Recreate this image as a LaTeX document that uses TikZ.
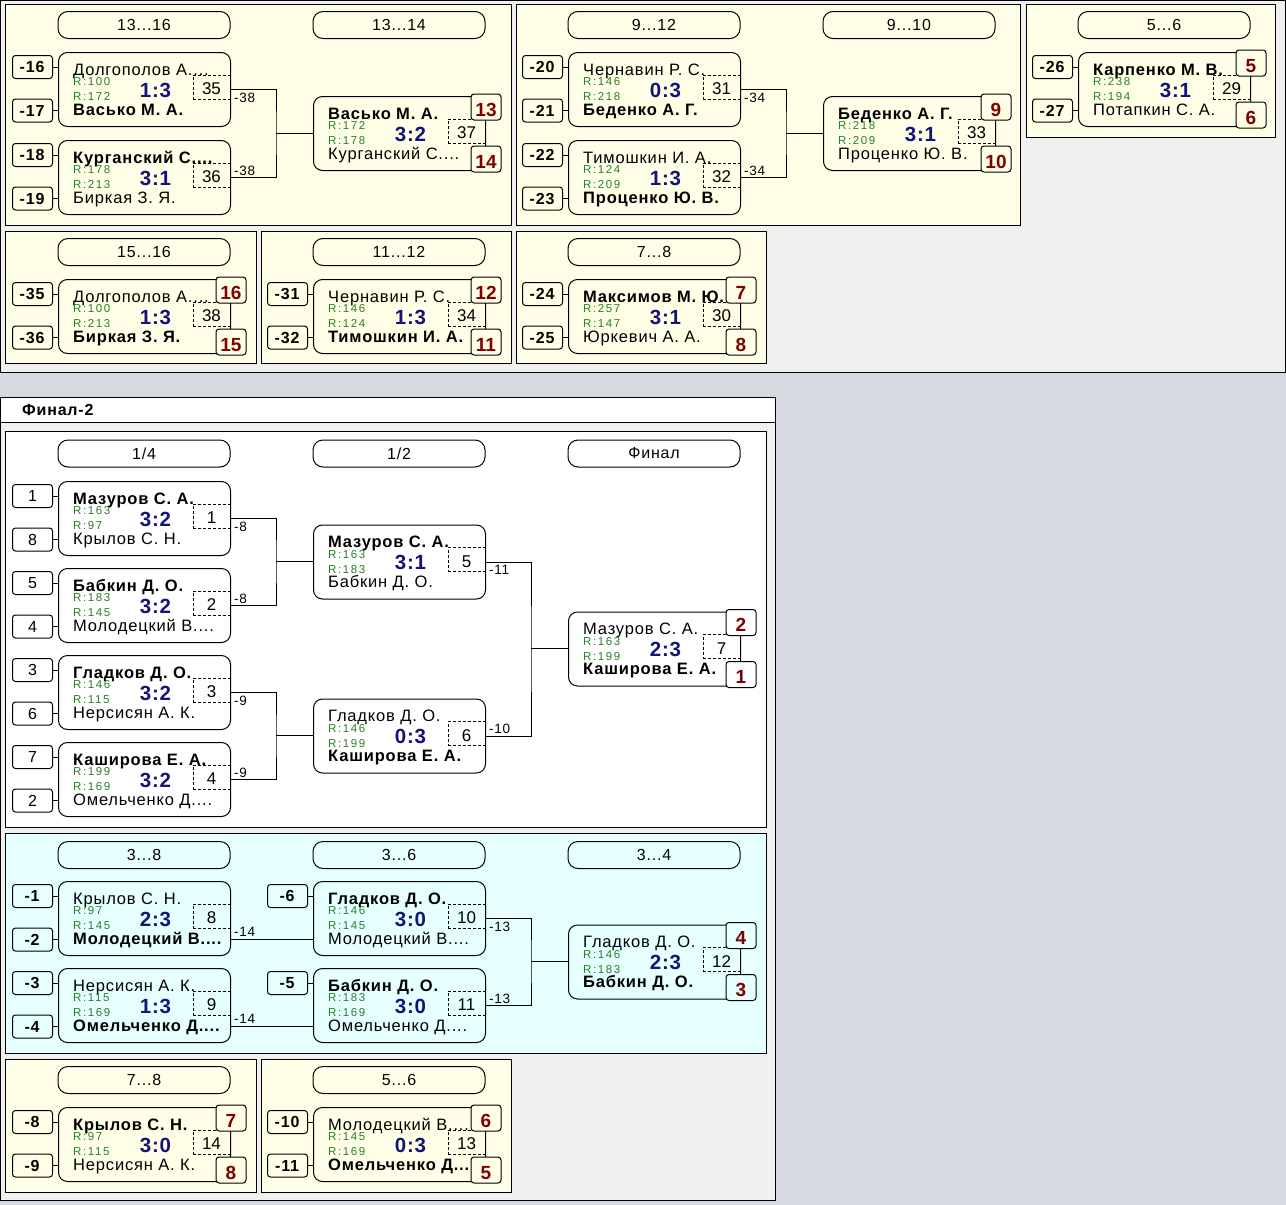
\documentclass[tikz,border=0pt]{standalone}
\usepackage{fontspec}
\setmainfont{Liberation Sans}
\newfontfamily\bkRfam[LetterSpace=14]{Liberation Sans}
\newfontfamily\bkNfam[LetterSpace=5]{Liberation Sans}
\newfontfamily\bkSfam[LetterSpace=4]{Liberation Sans}
\newfontfamily\bkHfam[LetterSpace=5]{Liberation Sans}
\usetikzlibrary{calc}
\definecolor{bgout}{RGB}{214,217,224}
\definecolor{cont}{RGB}{240,240,240}
\definecolor{cream}{RGB}{255,255,231}
\definecolor{cyanp}{RGB}{230,255,255}
\definecolor{rgreen}{RGB}{40,128,40}
\definecolor{scoreblue}{RGB}{20,20,120}
\definecolor{resred}{RGB}{128,0,0}
\colorlet{pcol}{cream}
\newcommand\bkName{\bkNfam\fontsize{16.5}{18}\selectfont}
\newcommand\bkRsm{\bkRfam\fontsize{11.5}{13}\selectfont}
\newcommand\bkScore{\bkSfam\bfseries\fontsize{20.5}{22}\selectfont}
\newcommand\bkHdr{\bkHfam\fontsize{16}{18}\selectfont}
\newcommand\bkSeedF{\bkHfam\fontsize{16}{18}\selectfont}
\newcommand\bkResF{\bfseries\fontsize{19}{21}\selectfont}
\newcommand\bkNumF{\fontsize{17}{19}\selectfont}
\newcommand\bkLblF{\bkHfam\fontsize{13.5}{15}\selectfont}
\newcommand\bkTitleF{\bkHfam\bfseries\fontsize{16}{18}\selectfont}
\tikzset{
  panel/.style={draw=black, line width=1pt},
  mbox/.style={draw=black, line width=1pt, rounded corners=9pt, minimum width=172pt, minimum height=74pt, inner sep=0pt, anchor=north west},
  hdr/.style={draw=black, line width=1pt, rounded corners=10pt, minimum width=172pt, minimum height=27pt, inner sep=0pt, font=\bkHdr},
  seedbox/.style={draw=black, line width=1pt, rounded corners=3pt, minimum width=40pt, minimum height=23pt, inner sep=0pt, font=\bkSeedF, anchor=east},
  resbox/.style={draw=black, line width=1pt, rounded corners=3pt, minimum width=30pt, minimum height=26pt, inner sep=0pt, fill=pcol, font=\bkResF, text=resred, text height=18pt, text depth=0pt},
  numbox/.style={draw=black, dash pattern=on 3pt off 2pt, line width=0.8pt, minimum width=37pt, minimum height=24pt, inner sep=0pt, font=\bkNumF, text height=15pt, text depth=0pt},
  nmtext/.style={anchor=base west, inner sep=0pt, font=\bkName},
  rtext/.style={anchor=base west, inner sep=0pt, font=\bkRsm, text=rgreen},
  scoretext/.style={anchor=base, inner sep=0pt, font=\bkScore, text=scoreblue},
  lbl/.style={inner sep=0pt, font=\bkLblF},
  wire/.style={line width=1pt, draw=black}
}
% match: id, x, y, name1, r1, r2, score, name2, number
\newcommand\bkMatch[9]{%
  \node[mbox] (#1) at (#2,#3) {};
  \node[nmtext] (#1a) at (#2+15,#3+23) {#4};
  \node[rtext] (#1r) at (#2+15,#3+33.5) {R:#5};
  \node[rtext] (#1s) at (#2+15,#3+48.5) {R:#6};
  \node[scoretext] (#1c) at (#2+97.5,#3+45) {#7};
  \node[nmtext] (#1b) at (#2+15,#3+63) {#8};
  \node[numbox] (#1d) at (#2+153.5,#3+35) {#9};
}
% seed: id, match, y offset, text
\newcommand\bkSeed[4]{%
  \node[seedbox] (#1) at ($(#2.north west)+(-5,#3)$) {#4};
  \draw[wire] (#1.east) -- (#2.west |- #1.east);
}
% result: id, match, y offset, text
\newcommand\bkRes[4]{%
  \node[resbox] (#1) at ($(#2.north west)+(173,#3)$) {#4};
}
% header: id, x, y centre, text
\newcommand\bkHead[4]{%
  \node[hdr] (#1) at (#2+86,#3) {#4};
}
\begin{document}
\begin{tikzpicture}[x=1pt,y=-1pt]
\useasboundingbox (0,0) rectangle (1286,1205);
\fill[bgout] (0,0) rectangle (1286,1205);
% ===== top container =====
\draw[panel, fill=cont] (0.5,0.5) rectangle (1285,372);
\draw[panel, fill=cream] (5,4) rectangle (511,225);
\draw[panel, fill=cream] (516,4) rectangle (1020,225);
\draw[panel, fill=cream] (1026,4) rectangle (1275,137);
\draw[panel, fill=cream] (5,231) rectangle (256,363);
\draw[panel, fill=cream] (261,231) rectangle (511,363);
\draw[panel, fill=cream] (516,231) rectangle (766,363);

% --- panel A
\bkHead{hA1}{58}{25}{13...16}
\bkHead{hA2}{313}{25}{13...14}
\bkMatch{M35}{58}{52}{Долгополов А....}{100}{172}{1:3}{\textbf{Васько М. А.}}{35}
\bkSeed{s16}{M35}{15}{\textbf{-16}}
\bkSeed{s17}{M35}{58.5}{\textbf{-17}}
\bkMatch{M36}{58}{140}{\textbf{Курганский С....}}{178}{213}{3:1}{Биркая З. Я.}{36}
\bkSeed{s18}{M36}{15}{\textbf{-18}}
\bkSeed{s19}{M36}{58.5}{\textbf{-19}}
\bkMatch{M37}{313}{96}{\textbf{Васько М. А.}}{172}{178}{3:2}{Курганский С....}{37}
\bkRes{r13}{M37}{11}{13}
\bkRes{r14}{M37}{63}{14}
\coordinate (jA) at (276,133);
\draw[wire] (M35.east) -| (jA) |- (M36.east);
\draw[wire] (jA) -- (jA -| M37.west);
\node[lbl, anchor=north west] (l35) at ($(M35.east)+(3,3)$) {-38};
\node[lbl, anchor=south west] (l36) at ($(M36.east)+(3,-2)$) {-38};

% --- panel B
\bkHead{hB1}{568}{25}{9...12}
\bkHead{hB2}{823}{25}{9...10}
\bkMatch{M31}{568}{52}{Чернавин Р. С.}{146}{218}{0:3}{\textbf{Беденко А. Г.}}{31}
\bkSeed{s20}{M31}{15}{\textbf{-20}}
\bkSeed{s21}{M31}{58.5}{\textbf{-21}}
\bkMatch{M32}{568}{140}{Тимошкин И. А.}{124}{209}{1:3}{\textbf{Проценко Ю. В.}}{32}
\bkSeed{s22}{M32}{15}{\textbf{-22}}
\bkSeed{s23}{M32}{58.5}{\textbf{-23}}
\bkMatch{M33}{823}{96}{\textbf{Беденко А. Г.}}{218}{209}{3:1}{Проценко Ю. В.}{33}
\bkRes{r9}{M33}{11}{9}
\bkRes{r10}{M33}{63}{10}
\coordinate (jB) at (786,133);
\draw[wire] (M31.east) -| (jB) |- (M32.east);
\draw[wire] (jB) -- (jB -| M33.west);
\node[lbl, anchor=north west] (l31) at ($(M31.east)+(3,3)$) {-34};
\node[lbl, anchor=south west] (l32) at ($(M32.east)+(3,-2)$) {-34};

% --- panel C
\bkHead{hC1}{1078}{25}{5...6}
\bkMatch{M29}{1078}{52}{\textbf{Карпенко М. В.}}{238}{194}{3:1}{Потапкин С. А.}{29}
\bkSeed{s26}{M29}{15}{\textbf{-26}}
\bkSeed{s27}{M29}{58.5}{\textbf{-27}}
\bkRes{r5a}{M29}{11}{5}
\bkRes{r6a}{M29}{63}{6}

% --- panel D
\bkHead{hD1}{58}{252}{15...16}
\bkMatch{M38}{58}{279}{Долгополов А....}{100}{213}{1:3}{\textbf{Биркая З. Я.}}{38}
\bkSeed{s35}{M38}{15}{\textbf{-35}}
\bkSeed{s36}{M38}{58.5}{\textbf{-36}}
\bkRes{r16}{M38}{11}{16}
\bkRes{r15}{M38}{63}{15}

% --- panel E
\bkHead{hE1}{313}{252}{11...12}
\bkMatch{M34}{313}{279}{Чернавин Р. С.}{146}{124}{1:3}{\textbf{Тимошкин И. А.}}{34}
\bkSeed{s31}{M34}{15}{\textbf{-31}}
\bkSeed{s32}{M34}{58.5}{\textbf{-32}}
\bkRes{r12}{M34}{11}{12}
\bkRes{r11}{M34}{63}{11}

% --- panel F
\bkHead{hF1}{568}{252}{7...8}
\bkMatch{M30}{568}{279}{\textbf{Максимов М. Ю.}}{257}{147}{3:1}{Юркевич А. А.}{30}
\bkSeed{s24}{M30}{15}{\textbf{-24}}
\bkSeed{s25}{M30}{58.5}{\textbf{-25}}
\bkRes{r7a}{M30}{11}{7}
\bkRes{r8a}{M30}{63}{8}

% ===== Final-2 container =====
\draw[panel, fill=cont] (0.5,397) rectangle (775,1200);
\draw[panel, fill=white] (0.5,397) rectangle (775,422);
\node[anchor=west, inner sep=0pt, font=\bkTitleF] (title2) at (22,410) {Финал-2};

% --- panel G
\colorlet{pcol}{white}
\draw[panel, fill=white] (5,431) rectangle (766,827);
\bkHead{hG1}{58}{453.5}{1/4}
\bkHead{hG2}{313}{453.5}{1/2}
\bkHead{hG3}{568}{453.5}{Финал}
\bkMatch{M1}{58}{481}{\textbf{Мазуров С. А.}}{163}{97}{3:2}{Крылов С. Н.}{1}
\bkSeed{g1}{M1}{15}{1}
\bkSeed{g8}{M1}{58.5}{8}
\bkMatch{M2}{58}{568}{\textbf{Бабкин Д. О.}}{183}{145}{3:2}{Молодецкий В....}{2}
\bkSeed{g5}{M2}{15}{5}
\bkSeed{g4}{M2}{58.5}{4}
\bkMatch{M3}{58}{655}{\textbf{Гладков Д. О.}}{146}{115}{3:2}{Нерсисян А. К.}{3}
\bkSeed{g3}{M3}{15}{3}
\bkSeed{g6}{M3}{58.5}{6}
\bkMatch{M4}{58}{742}{\textbf{Каширова Е. А.}}{199}{169}{3:2}{Омельченко Д....}{4}
\bkSeed{g7}{M4}{15}{7}
\bkSeed{g2}{M4}{58.5}{2}
\bkMatch{M5}{313}{524.5}{\textbf{Мазуров С. А.}}{163}{183}{3:1}{Бабкин Д. О.}{5}
\bkMatch{M6}{313}{698.5}{Гладков Д. О.}{146}{199}{0:3}{\textbf{Каширова Е. А.}}{6}
\bkMatch{M7}{568}{611.5}{Мазуров С. А.}{163}{199}{2:3}{\textbf{Каширова Е. А.}}{7}
\bkRes{rg2}{M7}{11}{2}
\bkRes{rg1}{M7}{63}{1}
\coordinate (jG1) at (276,561.5);
\coordinate (jG2) at (276,735.5);
\coordinate (jG3) at (531,648.5);
\draw[wire] (M1.east) -| (jG1) |- (M2.east);
\draw[wire] (jG1) -- (jG1 -| M5.west);
\draw[wire] (M3.east) -| (jG2) |- (M4.east);
\draw[wire] (jG2) -- (jG2 -| M6.west);
\draw[wire] (M5.east) -| (jG3) |- (M6.east);
\draw[wire] (jG3) -- (jG3 -| M7.west);
\node[lbl, anchor=north west] (lg1) at ($(M1.east)+(3,3)$) {-8};
\node[lbl, anchor=south west] (lg2) at ($(M2.east)+(3,-2)$) {-8};
\node[lbl, anchor=north west] (lg3) at ($(M3.east)+(3,3)$) {-9};
\node[lbl, anchor=south west] (lg4) at ($(M4.east)+(3,-2)$) {-9};
\node[lbl, anchor=north west] (lg5) at ($(M5.east)+(3,3)$) {-11};
\node[lbl, anchor=south west] (lg6) at ($(M6.east)+(3,-2)$) {-10};

% --- panel H
\colorlet{pcol}{cyanp}
\draw[panel, fill=cyanp] (5,833) rectangle (766,1053);
\bkHead{hH1}{58}{855}{3...8}
\bkHead{hH2}{313}{855}{3...6}
\bkHead{hH3}{568}{855}{3...4}
\bkMatch{M8}{58}{881}{Крылов С. Н.}{97}{145}{2:3}{\textbf{Молодецкий В....}}{8}
\bkSeed{h1}{M8}{15}{\textbf{-1}}
\bkSeed{h2}{M8}{58.5}{\textbf{-2}}
\bkMatch{M9}{58}{968}{Нерсисян А. К.}{115}{169}{1:3}{\textbf{Омельченко Д....}}{9}
\bkSeed{h3}{M9}{15}{\textbf{-3}}
\bkSeed{h4}{M9}{58.5}{\textbf{-4}}
\bkMatch{M10}{313}{881}{\textbf{Гладков Д. О.}}{146}{145}{3:0}{Молодецкий В....}{10}
\bkSeed{h6}{M10}{15}{\textbf{-6}}
\bkMatch{M11}{313}{968}{\textbf{Бабкин Д. О.}}{183}{169}{3:0}{Омельченко Д....}{11}
\bkSeed{h5}{M11}{15}{\textbf{-5}}
\bkMatch{M12}{568}{924.5}{Гладков Д. О.}{146}{183}{2:3}{\textbf{Бабкин Д. О.}}{12}
\bkRes{rh4}{M12}{11}{4}
\bkRes{rh3}{M12}{63}{3}
\coordinate (o8) at ($(M8.south east)+(0,-17)$);
\coordinate (o9) at ($(M9.south east)+(0,-17)$);
\draw[wire] (o8) -- (o8 -| M10.west);
\draw[wire] (o9) -- (o9 -| M11.west);
\node[lbl, anchor=south west] (lh8) at ($(o8)+(3,-2)$) {-14};
\node[lbl, anchor=south west] (lh9) at ($(o9)+(3,-2)$) {-14};
\coordinate (jH) at (531,961.5);
\draw[wire] (M10.east) -| (jH) |- (M11.east);
\draw[wire] (jH) -- (jH -| M12.west);
\node[lbl, anchor=north west] (lh10) at ($(M10.east)+(3,3)$) {-13};
\node[lbl, anchor=south west] (lh11) at ($(M11.east)+(3,-2)$) {-13};

% --- panels I and J
\colorlet{pcol}{cream}
\draw[panel, fill=cream] (5,1059) rectangle (256,1192);
\draw[panel, fill=cream] (261,1059) rectangle (511,1192);
\bkHead{hI1}{58}{1080}{7...8}
\bkMatch{M14}{58}{1107}{\textbf{Крылов С. Н.}}{97}{115}{3:0}{Нерсисян А. К.}{14}
\bkSeed{i8}{M14}{15}{\textbf{-8}}
\bkSeed{i9}{M14}{58.5}{\textbf{-9}}
\bkRes{ri7}{M14}{11}{7}
\bkRes{ri8}{M14}{63}{8}
\bkHead{hJ1}{313}{1080}{5...6}
\bkMatch{M13}{313}{1107}{Молодецкий В....}{145}{169}{0:3}{\textbf{Омельченко Д....}}{13}
\bkSeed{j10}{M13}{15}{\textbf{-10}}
\bkSeed{j11}{M13}{58.5}{\textbf{-11}}
\bkRes{rj6}{M13}{11}{6}
\bkRes{rj5}{M13}{63}{5}
\end{tikzpicture}
\end{document}
